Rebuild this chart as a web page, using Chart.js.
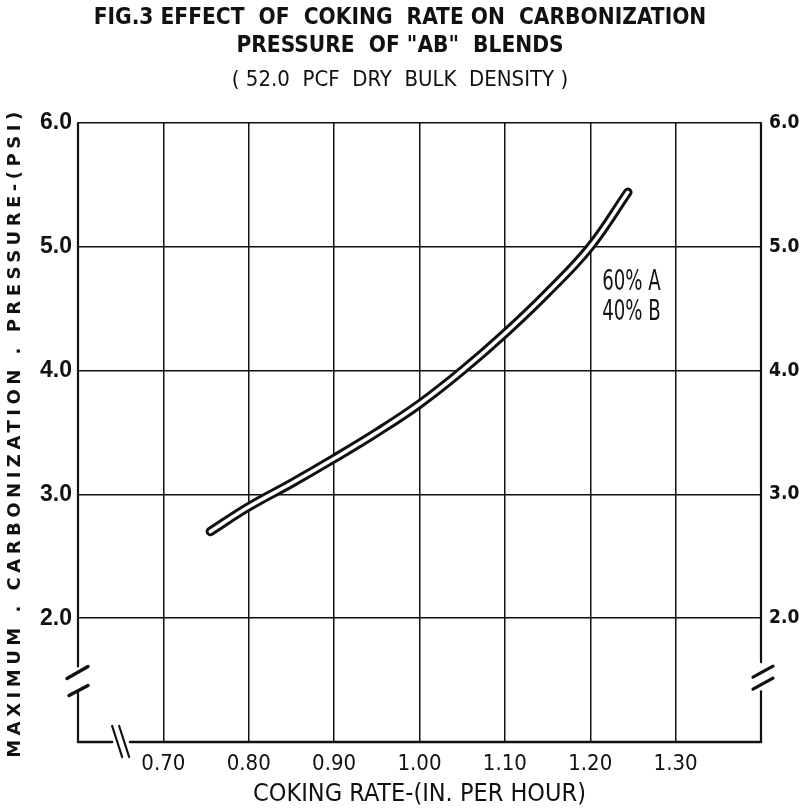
<!DOCTYPE html>
<html>
<head>
<meta charset="utf-8">
<script src="https://cdn.jsdelivr.net/npm/chart.js@4.4.1/dist/chart.umd.min.js"></script>
<style>
    html, body { margin: 0; padding: 0; background: #fff; }
    #wrap { width: 800px; height: 812px; }
</style>
</head>
<body>
<div id="wrap"><canvas id="myChart"></canvas></div>
<script>
// values
const cokingRate = [0.755, 0.80, 0.85, 0.90, 0.95, 1.00, 1.05, 1.10, 1.15, 1.20, 1.244];
const pressure = [2.70, 2.90, 3.09, 3.29, 3.50, 3.73, 4.00, 4.30, 4.63, 5.00, 5.44];
const xTicks = [0.70, 0.80, 0.90, 1.00, 1.10, 1.20, 1.30];
const yTicks = [2.0, 3.0, 4.0, 5.0, 6.0];
const blendLabel = ['60% A', '40% B'];
const titleLines = ['FIG.3 EFFECT  OF  COKING  RATE ON  CARBONIZATION', 'PRESSURE  OF "AB"  BLENDS'];
const subTitle = '( 52.0  PCF  DRY  BULK  DENSITY )';
const xTitle = 'COKING RATE-(IN. PER HOUR)';
const yTitle = 'MAXIMUM . CARBONIZATION . PRESSURE-(PSI)';

const narrow = "'DejaVu Sans Condensed', sans-serif";
const ink = '#111';

const points = cokingRate.map((x, i) => ({x: x, y: pressure[i]}));

const isTick = (list, v) => list.some(t => Math.abs(t - v) < 1e-6);

// frame with the axis breaks, as on the original sheet
const frame = {
    id: 'frame',
    beforeDatasetsDraw(chart) {
        const {ctx, scales: {x, y}} = chart;
        const left = x.getPixelForValue(0.6);
        const right = x.getPixelForValue(1.4);
        const top = y.getPixelForValue(6);
        const bottom = y.getPixelForValue(1);
        const seg = (x1, y1, x2, y2, w) => {
            ctx.lineWidth = w;
            ctx.beginPath();
            ctx.moveTo(x1, y1);
            ctx.lineTo(x2, y2);
            ctx.stroke();
        };
        ctx.save();
        ctx.strokeStyle = ink;
        ctx.lineCap = 'round';

        // left
        const lb1 = y.getPixelForValue(1.61);
        const lb2 = y.getPixelForValue(1.40);
        seg(left, top, left, lb1, 2.2);
        seg(left, lb2, left, bottom, 2.2);
        seg(left - 11, lb1 + 12, left + 10, lb1, 3.5);
        seg(left - 9, lb2 + 3, left + 10, lb2 - 7, 3.5);

        // bottom
        const xb1 = x.getPixelForValue(0.64);
        const xb2 = x.getPixelForValue(0.661);
        seg(left, bottom, xb1, bottom, 2.6);
        seg(xb2, bottom, right, bottom, 2.6);
        seg(xb1, bottom - 16, xb1 + 10, bottom + 15, 2.2);
        seg(xb1 + 7, bottom - 16, xb1 + 17, bottom + 15, 2.2);

        // right
        const rb1 = y.getPixelForValue(1.645);
        const rb2 = y.getPixelForValue(1.41);
        seg(right, top, right, rb1, 2.2);
        seg(right, rb2, right, bottom, 2.2);
        seg(right - 8, rb1 + 15, right + 12, rb1 + 4, 3.2);
        seg(right - 8, rb1 + 27, right + 12, rb1 + 16, 3.2);
        ctx.restore();
    }
};

// rotated left title and the blend note
const notes = {
    id: 'notes',
    afterDraw(chart) {
        const {ctx, chartArea, scales: {x, y}} = chart;
        ctx.save();
        ctx.fillStyle = ink;
        ctx.font = "bold 18px 'DejaVu Sans', sans-serif";
        ctx.letterSpacing = '4.5px';
        ctx.textAlign = 'center';
        ctx.textBaseline = 'middle';
        ctx.translate(15, (chartArea.top + chartArea.bottom) / 2);
        ctx.rotate(-Math.PI / 2);
        ctx.fillText(yTitle, 0, 0);
        ctx.restore();

        // narrow lettering like the drawing
        blendLabel.forEach((txt, i) => {
            ctx.save();
            ctx.fillStyle = ink;
            ctx.font = '28px ' + narrow;
            ctx.textAlign = 'left';
            ctx.textBaseline = 'middle';
            ctx.translate(x.getPixelForValue(1.214), y.getPixelForValue(i === 0 ? 4.71 : 4.47));
            ctx.scale(0.72, 1);
            ctx.fillText(txt, 0, 0);
            ctx.restore();
        });
    }
};

const ctx = document.getElementById('myChart').getContext('2d');

const myChart = new Chart(ctx, {
    type: 'line',
    data: {
        datasets: [{
            // white core of the double line
            data: points,
            borderColor: '#fff',
            borderWidth: 3.5,
            borderCapStyle: 'round',
            pointRadius: 0,
            tension: 0.4
        }, {
            data: points,
            borderColor: ink,
            borderWidth: 9.5,
            borderCapStyle: 'round',
            pointRadius: 0,
            tension: 0.4
        }]
    },
    options: {
        responsive: true,
        maintainAspectRatio: false,
        animation: false,
        layout: {padding: 0},
        plugins: {
            legend: {display: false},
            tooltip: {enabled: false},
            title: {
                display: true,
                text: titleLines,
                color: ink,
                font: {family: narrow, size: 22.5, weight: 'bold', lineHeight: 1.245},
                padding: {top: 4, bottom: 0}
            },
            subtitle: {
                display: true,
                text: subTitle,
                color: ink,
                font: {family: narrow, size: 22, lineHeight: 1.0},
                padding: {top: 9, bottom: 32}
            }
        },
        scales: {
            x: {
                type: 'linear',
                min: 0.6,
                max: 1.4,
                border: {display: false},
                grid: {
                    drawTicks: false,
                    lineWidth: 1.5,
                    color: c => isTick(xTicks, c.tick.value) ? ink : 'rgba(0,0,0,0)'
                },
                ticks: {
                    stepSize: 0.1,
                    autoSkip: false,
                    maxRotation: 0,
                    padding: 9,
                    color: ink,
                    font: {family: narrow, size: 22},
                    callback: v => isTick(xTicks, v) ? v.toFixed(2) : ''
                },
                title: {
                    display: true,
                    text: xTitle,
                    color: ink,
                    font: {family: narrow, size: 25, lineHeight: 1.2},
                    padding: {top: 0, bottom: 3}
                },
                afterFit: s => { s.height = 70; }
            },
            y: {
                min: 1,
                max: 6,
                border: {display: false},
                grid: {
                    drawTicks: false,
                    lineWidth: 1.5,
                    color: c => isTick(yTicks, c.tick.value) ? ink : 'rgba(0,0,0,0)'
                },
                ticks: {
                    stepSize: 1,
                    padding: 6,
                    color: ink,
                    font: {family: "'Liberation Sans', Arial, sans-serif", size: 23, weight: 'bold'},
                    callback: v => isTick(yTicks, v) ? v.toFixed(1) : ''
                },
                afterFit: s => { s.width = 78; }
            },
            y2: {
                position: 'right',
                min: 1,
                max: 6,
                border: {display: false},
                grid: {display: false, drawTicks: false},
                ticks: {
                    stepSize: 1,
                    padding: 8,
                    color: ink,
                    font: {family: narrow, size: 19, weight: 'bold'},
                    callback: v => isTick(yTicks, v) ? v.toFixed(1) : ''
                },
                afterFit: s => { s.width = 39; }
            }
        }
    },
    plugins: [frame, notes]
});
</script>
</body>
</html>
